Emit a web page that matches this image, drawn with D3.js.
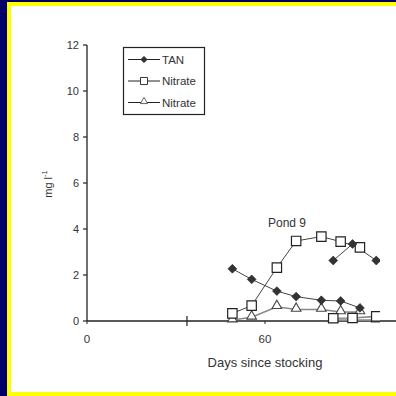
<!DOCTYPE html>
<html>
<head>
<meta charset="utf-8">
<script src="https://cdn.jsdelivr.net/npm/d3@7"></script>
<style>
  html, body { margin: 0; padding: 0; background: #000066; }
  svg { display: block; font-family: "Liberation Sans", Arial, sans-serif; }
</style>
</head>
<body>
<script>
// pond 9, first run of samples
var daysA = [49, 55.5, 64, 70.5, 79, 85.5, 92];
var tanA = [2.27, 1.81, 1.3, 1.06, 0.9, 0.87, 0.57];
var nitrateA = [0.33, 0.67, 2.32, 3.48, 3.67, 3.45, 3.2];
var nitrite2A = [0.04, 0.16, 0.62, 0.5, 0.5, 0.39, 0.39];

// second run (cut off at the right edge)
var daysB = [83, 89.5, 97.5];
var tanB = [2.63, 3.35, 2.63];
var nitrateB = [0.12, 0.13, 0.2];
var nitrite2B = [0.04, 0.04, 0.04];

var yTicks = [0, 2, 4, 6, 8, 10, 12];
var xLabels = [0, 60];
var xBreak = 33.7;
var legendNames = ["TAN", "Nitrate", "Nitrate"];

var width = 396, height = 396;

var svg = d3.select("body").append("svg")
    .attr("width", width)
    .attr("height", height);

// frame: navy outside, yellow band, white page
svg.append("rect").attr("x", 0).attr("y", 0).attr("width", width).attr("height", height).attr("fill", "#000066");
svg.append("rect").attr("x", 7).attr("y", 2).attr("width", width - 7).attr("height", height - 2).attr("fill", "#ffff00");
svg.append("rect").attr("x", 11).attr("y", 6).attr("width", width - 11).attr("height", 386).attr("fill", "#ffffff");

var x = d3.scaleLinear().domain([0, 60]).range([87, 265]);
var y = d3.scaleLinear().domain([0, 12]).range([321, 45]);

var ink = "#222";

// y axis
svg.append("line")
    .attr("x1", x(0)).attr("x2", x(0))
    .attr("y1", y(12)).attr("y2", y(0))
    .attr("stroke", ink).attr("stroke-width", 1.3);

svg.selectAll(".ytick").data(yTicks).enter().append("line")
    .attr("x1", x(0) - 4).attr("x2", x(0))
    .attr("y1", d => y(d)).attr("y2", d => y(d))
    .attr("stroke", ink).attr("stroke-width", 1.2);

svg.selectAll(".ylab").data(yTicks).enter().append("text")
    .attr("x", x(0) - 8)
    .attr("y", d => y(d) + 4)
    .attr("text-anchor", "end")
    .attr("font-size", 11)
    .attr("fill", "#333")
    .text(d => d);

// x axis
svg.append("line")
    .attr("x1", x(0)).attr("x2", width)
    .attr("y1", y(0)).attr("y2", y(0))
    .attr("stroke", ink).attr("stroke-width", 1.3);

svg.selectAll(".xtick").data(xLabels).enter().append("line")
    .attr("x1", d => x(d)).attr("x2", d => x(d))
    .attr("y1", y(0)).attr("y2", y(0) + 3)
    .attr("stroke", ink).attr("stroke-width", 1);

svg.append("line")
    .attr("x1", x(xBreak)).attr("x2", x(xBreak))
    .attr("y1", y(0) - 5).attr("y2", y(0) + 5)
    .attr("stroke", ink).attr("stroke-width", 1.2);

svg.selectAll(".xlab").data(xLabels).enter().append("text")
    .attr("x", d => x(d))
    .attr("y", 343)
    .attr("text-anchor", "middle")
    .attr("font-size", 11.5)
    .attr("fill", "#333")
    .text(d => d);

svg.append("text")
    .attr("x", x(60))
    .attr("y", 367)
    .attr("text-anchor", "middle")
    .attr("font-size", 13)
    .attr("fill", "#333")
    .text("Days since stocking");

var ylab = svg.append("text")
    .attr("transform", "translate(52,184) rotate(-90)")
    .attr("text-anchor", "middle")
    .attr("font-size", 11)
    .attr("fill", "#333");
ylab.append("tspan").text("mg l");
ylab.append("tspan").attr("font-size", 7.5).attr("dy", -5).text("-1");

svg.append("text")
    .attr("x", 287)
    .attr("y", 227)
    .attr("text-anchor", "middle")
    .attr("font-size", 12)
    .attr("fill", "#333")
    .text("Pond 9");

// markers
var diamond = d3.symbol().type(d3.symbolDiamond2).size(50);
var square = d3.symbol().type(d3.symbolSquare).size(88);
var triangle = d3.symbol().type(d3.symbolTriangle).size(40);

function drawMarker(g, kind, px, py, scale) {
    var t = "translate(" + px + "," + py + ") scale(" + (scale || 1) + ")";
    if (kind === 0) {
        g.append("path").attr("d", diamond()).attr("transform", t)
            .attr("fill", "#333").attr("stroke", "#222").attr("stroke-width", 0.6);
    } else if (kind === 1) {
        g.append("path").attr("d", square()).attr("transform", t)
            .attr("fill", "#fff").attr("stroke", "#222").attr("stroke-width", 1.2);
    } else {
        g.append("path").attr("d", triangle())
            .attr("transform", "translate(" + px + "," + (py - 1) + ") scale(" + (scale || 1) + ")")
            .attr("fill", "#fff").attr("stroke", "#444").attr("stroke-width", 1.1);
    }
}

svg.append("clipPath").attr("id", "plotclip")
    .append("rect").attr("x", x(0)).attr("y", 30).attr("width", 293).attr("height", 300);

var plot = svg.append("g").attr("clip-path", "url(#plotclip)");

var line = d3.line().x(d => x(d[0])).y(d => y(d[1]));

var series = [
    { days: daysA, vals: nitrite2A, kind: 2, col: "#888", w: 1.6 },
    { days: daysA, vals: tanA, kind: 0, col: "#444", w: 1 },
    { days: daysA, vals: nitrateA, kind: 1, col: "#444", w: 1 },
    { days: daysB, vals: nitrite2B, kind: 2, col: "#888", w: 1.6 },
    { days: daysB, vals: nitrateB, kind: 1, col: "#888", w: 1.6 },
    { days: daysB, vals: tanB, kind: 0, col: "#444", w: 1 }
];

series.forEach(function (s) {
    var pts = s.days.map((d, i) => [d, s.vals[i]]);
    plot.append("path").attr("d", line(pts))
        .attr("fill", "none").attr("stroke", s.col).attr("stroke-width", s.w);
});
series.forEach(function (s) {
    s.days.forEach(function (d, i) {
        drawMarker(plot, s.kind, x(d), y(s.vals[i]));
    });
});

// legend
var leg = svg.append("g");
leg.append("rect")
    .attr("x", 123.5).attr("y", 47.5).attr("width", 81).attr("height", 67)
    .attr("fill", "#fff").attr("stroke", ink).attr("stroke-width", 1.2);

var legY = d3.scalePoint().domain(d3.range(legendNames.length)).range([59.5, 102.5]);

legendNames.forEach(function (name, i) {
    var ly = legY(i);
    leg.append("line").attr("x1", 128).attr("x2", 160).attr("y1", ly).attr("y2", ly)
        .attr("stroke", ink).attr("stroke-width", 1);
    drawMarker(leg, i, 144, ly, 0.75);
    leg.append("text").attr("x", 162).attr("y", ly + 4)
        .attr("font-size", 11.5).attr("fill", "#333").text(name);
});
</script>
</body>
</html>
